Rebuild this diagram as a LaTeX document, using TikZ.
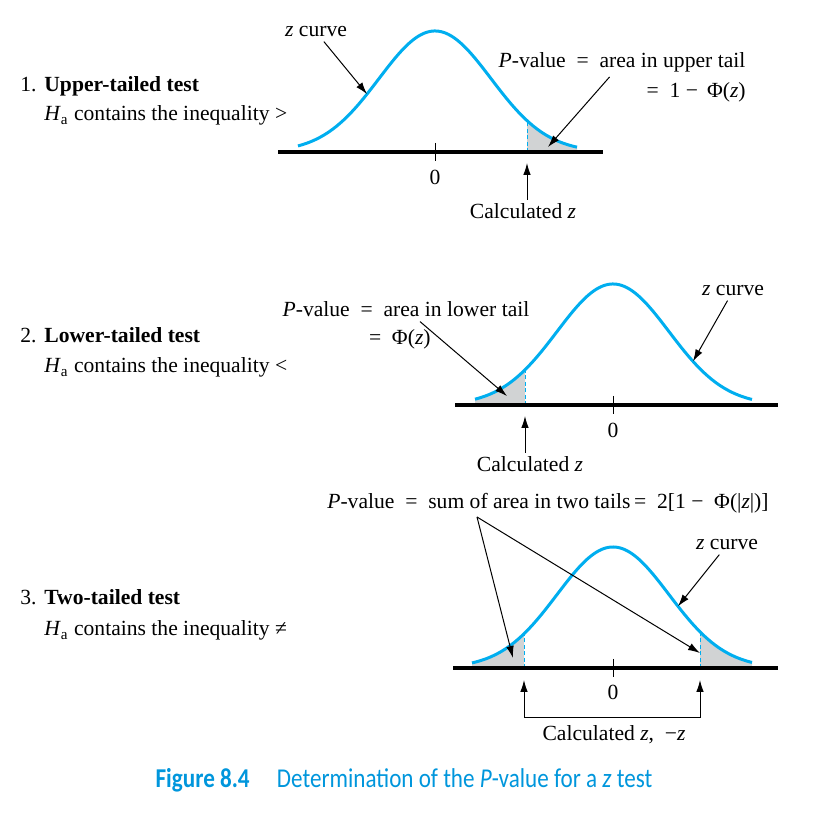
\documentclass[tikz,border=0pt]{standalone}
\usepackage{fontspec}
\setmainfont{Liberation Serif}
\newfontfamily\capfont[FakeStretch=0.85]{Carlito}
\usetikzlibrary{positioning,arrows.meta,calc}
\definecolor{zblue}{RGB}{0,174,239}
\definecolor{capblue}{RGB}{0,150,220}
\definecolor{tailgray}{RGB}{209,211,212}
\newcommand{\eqsp}{\enspace=\enspace}
\tikzset{
  zcurve/.style={zblue, line width=1.5pt},
  axisline/.style={line width=2pt},
  ptr/.style={-{Latex[length=6pt,width=3.8pt]}, line width=0.5pt},
  cutline/.style={zblue, line width=0.5pt, dash pattern=on 2pt off 1.2pt},
  lab/.style={font=\fontsize{10.8}{12}\selectfont, inner sep=2pt},
  declare function={bell(\t)=-121*exp(-0.5*(\t/56)^2);}
}

\begin{document}
\begin{tikzpicture}[x=0.5pt, y=-0.5pt]
        \useasboundingbox (0,0) rectangle (832,818);

        % Teste unilateral superior
        \begin{scope}[shift={(435,152)}]
          \fill[tailgray] (92,0) -- plot[domain=92:142, samples=30] (\x,{bell(\x)}) -- (142,0) -- cycle;
          \draw[cutline] (92,0) -- (92,{bell(92)});
          \draw[zcurve] plot[domain=-137:142, samples=120] (\x,{bell(\x)});
          \draw[axisline] (-157,0) -- (168,0);
          \draw[line width=0.5pt] (0,-9) -- (0,9);
          \coordinate (tipA) at (-68,{bell(-68)});
          \coordinate (tipB) at (113,-5);
          \coordinate (tipC) at (92,11);
        \end{scope}
        \node[lab, anchor=base west] (num1) at (16,92) {1.};
        \node[lab, anchor=base west] (head1) at (40,92) {\textbf{Upper-tailed test}};
        \node[lab, anchor=base west] (ha1) at (40,121) {\textit{H}\textsubscript{a} contains the inequality >};
        \node[lab, anchor=base] (zc1) at (316,37) {\textit{z} curve};
        \node[lab, anchor=base] (pv1) at (622,68) {\textit{P}-value\eqsp area in upper tail};
        \node[lab, anchor=base east] (eq1) at (750,98) {=\enspace 1 −\, Φ(\textit{z})};
        \node[lab, anchor=base] (zero1) at (435,185) {0};
        \node[lab, anchor=base] (calc1) at (523,219) {Calculated \textit{z}};
        \draw[ptr] (zc1) -- (tipA);
        \draw[ptr] (pv1) -- (tipB);
        \draw[ptr] (calc1.north -| tipC) -- (tipC);

        % Teste unilateral inferior
        \begin{scope}[shift={(613,405)}]
          \fill[tailgray] (-88,0) -- plot[domain=-88:-138, samples=30] (\x,{bell(\x)}) -- (-138,0) -- cycle;
          \draw[cutline] (-88,0) -- (-88,{bell(-88)});
          \draw[zcurve] plot[domain=-138:139, samples=120] (\x,{bell(\x)});
          \draw[axisline] (-158,0) -- (165,0);
          \draw[line width=0.5pt] (0,-9) -- (0,9);
          \coordinate (tipD) at (-106,-9);
          \coordinate (tipE) at (80,{bell(80)});
          \coordinate (tipF) at (-88,11);
        \end{scope}
        \node[lab, anchor=base west] (num2) at (16,343) {2.};
        \node[lab, anchor=base west] (head2) at (40,343) {\textbf{Lower-tailed test}};
        \node[lab, anchor=base west] (ha2) at (40,373) {\textit{H}\textsubscript{a} contains the inequality <};
        \node[lab, anchor=base] (pv2) at (406,317) {\textit{P}-value\eqsp area in lower tail};
        \node[lab, anchor=base east] (eq2) at (435,345) {=\enspace Φ(\textit{z})};
        \node[lab, anchor=base] (zc2) at (733,296) {\textit{z} curve};
        \node[lab, anchor=base] (zero2) at (613,438) {0};
        \node[lab, anchor=base] (calc2) at (530,472) {Calculated \textit{z}};
        \draw[ptr] (pv2) -- (tipD);
        \draw[ptr] (zc2) -- (tipE);
        \draw[ptr] (calc2.north -| tipF) -- (tipF);

        % Teste bilateral
        \begin{scope}[shift={(613,668)}]
          \fill[tailgray] (-89,0) -- plot[domain=-89:-141, samples=30] (\x,{bell(\x)}) -- (-141,0) -- cycle;
          \fill[tailgray] (87,0) -- plot[domain=87:139, samples=30] (\x,{bell(\x)}) -- (139,0) -- cycle;
          \draw[cutline] (-89,0) -- (-89,{bell(-89)});
          \draw[cutline] (87,0) -- (87,{bell(87)});
          \draw[zcurve] plot[domain=-141:139, samples=120] (\x,{bell(\x)});
          \draw[axisline] (-160,0) -- (165,0);
          \draw[line width=0.5pt] (0,-9) -- (0,9);
          \coordinate (tipG) at (-100,-10);
          \coordinate (tipH) at (87,-15);
          \coordinate (tipI) at (65,{bell(65)});
          \coordinate (tipL) at (-89,12);
          \coordinate (tipR) at (87,12);
          \coordinate (brk) at (0,50);
        \end{scope}
        \node[lab, anchor=base west] (num3) at (16,605) {3.};
        \node[lab, anchor=base west] (head3) at (40,605) {\textbf{Two-tailed test}};
        \node[lab, anchor=base west] (ha3) at (40,636) {\textit{H}\textsubscript{a} contains the inequality ≠};
        \node[lab, anchor=base] (pv3) at (548,509) {\textit{P}-value\eqsp sum of area in two tails\,=\enspace 2[1 −\enspace Φ(|\textit{z}|)]};
        \coordinate (fork) at (477,517);
        \node[lab, anchor=base] (zc3) at (727,550) {\textit{z} curve};
        \node[lab, anchor=base] (zero3) at (613,700) {0};
        \node[lab, anchor=base] (calc3) at (614,741) {Calculated \textit{z},\enspace−\textit{z}};
        \draw[ptr] (fork) -- (tipG);
        \draw[ptr] (fork) -- (tipH);
        \draw[ptr] (zc3) -- (tipI);
        \draw[{Latex[length=6pt,width=3.8pt]}-{Latex[length=6pt,width=3.8pt]}, line width=0.5pt]
          (tipL) -- (tipL |- brk) -- (tipR |- brk) -- (tipR);

        % Legenda
        \node[font=\capfont\fontsize{13.6}{15}\selectfont, text=capblue, anchor=base] (cap) at (404,788)
          {\textbf{Figure 8.4}\quad Determination of the \textit{P}-value for a \textit{z} test};
\end{tikzpicture}
\end{document}
